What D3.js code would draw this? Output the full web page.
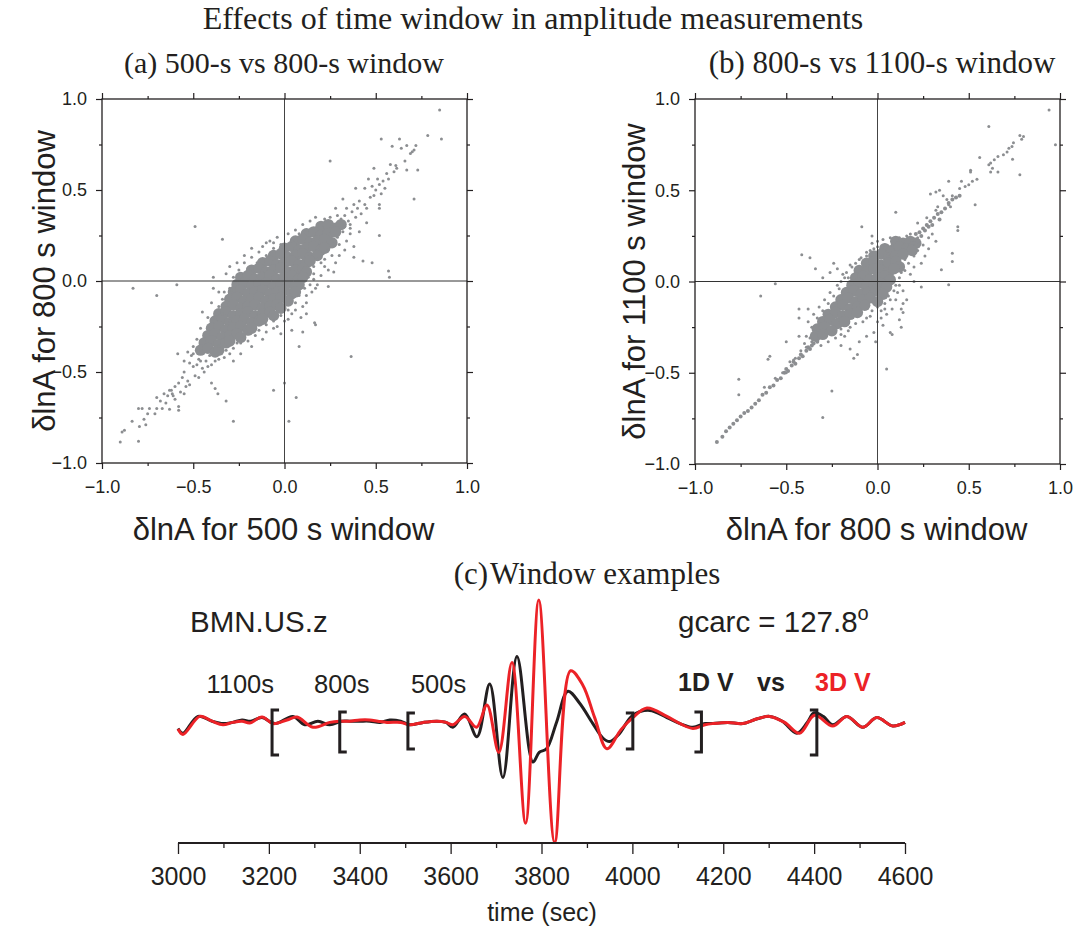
<!DOCTYPE html>
<html>
<head>
<meta charset="utf-8">
<script src="https://cdn.jsdelivr.net/npm/d3@7"></script>
<style>
  body { margin: 0; background: #fff; }
  svg { display: block; }
</style>
</head>
<body>
<script>
// ---------- data ----------
// panel (a): dense core and scattered measurements (500 s vs 800 s)
const denseA = [
  [0.20,0.30],[0.24,0.31],[0.28,0.29],[0.31,0.31],
  [0.12,0.26],[0.16,0.27],[0.20,0.25],[0.24,0.26],[0.28,0.27],
  [0.06,0.22],[0.10,0.23],[0.14,0.21],[0.18,0.22],[0.22,0.23],[0.26,0.21],
  [0.00,0.18],[0.04,0.19],[0.08,0.17],[0.12,0.18],[0.16,0.19],[0.20,0.17],[0.22,0.18],
  [-0.06,0.14],[-0.02,0.15],[0.02,0.13],[0.06,0.14],[0.10,0.15],[0.14,0.13],[0.18,0.14],
  [-0.12,0.10],[-0.08,0.11],[-0.04,0.09],[0.00,0.10],[0.04,0.11],[0.08,0.09],[0.12,0.10],[0.14,0.11],
  [-0.18,0.06],[-0.14,0.07],[-0.10,0.05],[-0.06,0.06],[-0.02,0.07],[0.02,0.05],[0.06,0.06],[0.10,0.07],[0.12,0.05],
  [-0.24,0.02],[-0.20,0.03],[-0.16,0.01],[-0.12,0.02],[-0.08,0.03],[-0.04,0.01],[0.00,0.02],[0.04,0.03],[0.08,0.01],[0.10,0.02],
  [-0.26,-0.02],[-0.22,-0.01],[-0.18,-0.03],[-0.14,-0.02],[-0.10,-0.01],[-0.06,-0.03],[-0.02,-0.02],[0.02,-0.01],[0.06,-0.03],[0.08,-0.02],
  [-0.28,-0.06],[-0.24,-0.05],[-0.20,-0.07],[-0.16,-0.06],[-0.12,-0.05],[-0.08,-0.07],[-0.04,-0.06],[0.00,-0.05],[0.04,-0.07],[0.06,-0.06],
  [-0.30,-0.10],[-0.26,-0.09],[-0.22,-0.11],[-0.18,-0.10],[-0.14,-0.09],[-0.10,-0.11],[-0.06,-0.10],[-0.02,-0.09],[0.02,-0.11],
  [-0.32,-0.14],[-0.28,-0.13],[-0.24,-0.15],[-0.20,-0.14],[-0.16,-0.13],[-0.12,-0.15],[-0.08,-0.14],[-0.04,-0.13],[-0.02,-0.15],
  [-0.36,-0.18],[-0.32,-0.17],[-0.28,-0.19],[-0.24,-0.18],[-0.20,-0.17],[-0.16,-0.19],[-0.12,-0.18],[-0.08,-0.17],[-0.06,-0.19],
  [-0.38,-0.22],[-0.34,-0.21],[-0.30,-0.23],[-0.26,-0.22],[-0.22,-0.21],[-0.18,-0.23],[-0.14,-0.22],[-0.12,-0.21],
  [-0.40,-0.26],[-0.36,-0.25],[-0.32,-0.27],[-0.28,-0.26],[-0.24,-0.25],[-0.20,-0.27],[-0.18,-0.26],
  [-0.42,-0.30],[-0.38,-0.29],[-0.34,-0.31],[-0.30,-0.30],[-0.26,-0.29],[-0.24,-0.31],
  [-0.44,-0.34],[-0.40,-0.33],[-0.36,-0.35],[-0.32,-0.34],[-0.30,-0.33],
  [-0.46,-0.38],[-0.42,-0.37],[-0.38,-0.39],[-0.36,-0.38]
];
const sparseA = [
  [0.85,0.94],[0.785,0.80],[0.86,0.78],[0.53,0.78],[0.59,0.74],[0.63,0.78],[0.64,0.73],[0.67,0.745],
  [0.70,0.71],[0.72,0.745],[0.69,0.70],[0.71,0.72],[0.61,0.635],[0.615,0.62],[0.66,0.66],[0.67,0.61],
  [0.73,0.61],[0.71,0.45],[0.60,0.60],[0.58,0.64],[0.56,0.59],
  [0.33,0.36],[0.35,0.33],[0.37,0.38],[0.36,0.31],[0.39,0.35],[0.40,0.40],[0.42,0.37],[0.38,0.42],
  [0.44,0.42],[0.41,0.44],[0.45,0.40],[0.34,0.40],[0.31,0.34],[0.29,0.36],[0.33,0.30],[0.32,0.45],
  [0.28,0.40],[0.25,0.35],[0.47,0.46],[0.48,0.52],[0.50,0.50],[0.52,0.53],[0.53,0.48],[0.51,0.56],
  [0.54,0.55],[0.55,0.51],[0.49,0.47],[0.46,0.56],[0.39,0.51],[0.44,0.51],[0.52,0.42],[0.52,0.40],
  [0.45,0.32],[0.41,0.27],[0.36,0.29],[0.17,0.35],[0.14,0.28],[0.25,0.66],[0.49,0.62],[0.57,0.56],
  [0.52,0.25],[0.57,0.055],[0.575,0.02],[0.48,0.10],[0.43,0.11],[0.38,0.13],[0.38,0.19],[0.27,0.05],
  [0.30,0.20],[0.33,0.17],[0.26,0.14],[0.22,0.08],[0.20,0.03],[0.24,-0.03],
  [-0.49,0.30],[-0.34,0.23],[-0.10,0.21],[-0.06,0.21],[-0.83,-0.04],[-0.59,-0.02],[-0.70,-0.08],
  [-0.39,0.02],[-0.39,-0.04],[-0.45,-0.17],[-0.22,0.10],[-0.25,0.06],[-0.18,0.13],[-0.14,0.16],
  [-0.12,0.19],[-0.28,0.02],[-0.30,-0.04],[-0.34,-0.10],[-0.36,-0.14],[-0.38,-0.20],[-0.33,-0.06],
  [0.165,-0.23],[0.17,-0.24],[0.10,-0.28],[0.08,-0.36],[0.365,-0.415],[0.00,-0.56],[-0.06,-0.60],
  [0.064,-0.64],[0.024,-0.77],[-0.28,-0.77],[-0.32,-0.66],[-0.365,-0.62],[-0.38,-0.59],[-0.40,-0.56],
  [0.12,-0.12],[0.15,-0.06],[0.17,-0.04],[0.12,-0.18],[0.09,-0.20],[0.06,-0.16],[0.02,-0.21],
  [0.04,-0.27],[-0.02,-0.29],[-0.04,-0.25],[0.18,-0.02],[0.16,0.01],
  [-0.585,-0.40],[-0.51,-0.41],[-0.47,-0.43],[-0.46,-0.38],[-0.48,-0.46],[-0.50,-0.47],[-0.52,-0.45],
  [-0.45,-0.48],[-0.43,-0.44],[-0.49,-0.52],[-0.53,-0.55],[-0.55,-0.50],[-0.56,-0.53],[-0.54,-0.58],
  [-0.58,-0.56],[-0.60,-0.58],[-0.57,-0.61],[-0.61,-0.63],[-0.62,-0.60],[-0.64,-0.63],[-0.66,-0.62],
  [-0.63,-0.60],[-0.615,-0.62],[-0.58,-0.71],[-0.58,-0.69],[-0.63,-0.705],[-0.67,-0.70],[-0.70,-0.70],
  [-0.71,-0.73],[-0.74,-0.70],[-0.75,-0.73],[-0.77,-0.76],[-0.76,-0.79],[-0.80,-0.70],[-0.78,-0.70],
  [-0.835,-0.77],[-0.877,-0.82],[-0.89,-0.83],[-0.90,-0.885],[-0.80,-0.88],[-0.795,-0.80],[-0.68,-0.66],
  [-0.70,-0.64],[-0.65,-0.67],[-0.60,-0.65],[-0.55,-0.62],[-0.52,-0.57],[-0.47,-0.53],[-0.44,-0.50],
  [-0.42,-0.47],[-0.40,-0.46],[-0.38,-0.44],[-0.36,-0.43],[-0.41,-0.41],[-0.46,-0.44],[-0.33,-0.42],
  [-0.30,-0.40],[-0.28,-0.37],[-0.26,-0.34],[-0.24,-0.34],[-0.22,-0.31],[-0.20,-0.29],[-0.50,-0.36],
  [-0.55,-0.44],[-0.53,-0.39],
  [-0.30,-0.22],[-0.34,-0.18],[-0.32,-0.10],[-0.29,-0.05],[-0.27,0.00],[-0.24,0.04],[-0.20,0.07],
  [-0.15,0.10],[-0.10,0.14],[-0.06,0.18],[-0.02,0.20],[0.04,0.22],[0.08,0.26],[0.12,0.28],[0.18,0.30],
  [0.22,0.34],[0.26,0.30],[0.16,0.08],[0.18,0.12],[0.21,0.15],[0.24,0.17],[0.26,0.22],[0.29,0.24],
  [0.32,0.27],[0.13,0.02],[0.11,-0.04],[0.08,-0.08],[0.06,-0.12],[0.02,-0.16],[-0.02,-0.19],
  [-0.06,-0.22],[-0.10,-0.24],[-0.14,-0.27],[-0.16,-0.30],[-0.20,-0.33],[-0.32,-0.38],[-0.36,-0.36],
  [-0.32,0.04],[-0.30,0.08],[-0.26,0.10],[-0.22,0.14],[-0.18,0.18],[-0.08,0.22],[-0.04,0.24],
  [0.02,0.26],[0.06,0.28],[0.10,0.31],[0.14,0.33],[-0.36,-0.06],[-0.40,-0.12],[-0.42,-0.20],
  [-0.46,-0.26],[-0.48,-0.32],[-0.50,-0.40],[0.20,0.10],[0.22,0.12],[0.24,0.06],[0.28,0.10],
  [0.30,0.14],[0.34,0.22],[0.36,0.26],[0.16,0.04],[0.14,-0.02],[0.12,-0.08],[0.10,-0.14],
  [0.04,-0.18],[0.00,-0.22],[-0.06,-0.26],[-0.10,-0.28],[-0.12,-0.32],[-0.18,-0.36],[-0.24,-0.40],
  [-0.28,-0.44]
];

// panel (b): 800 s vs 1100 s
const denseB = [
  [0.10,0.22],[0.14,0.21],[0.18,0.22],[0.21,0.21],
  [0.04,0.18],[0.08,0.17],[0.12,0.19],[0.16,0.18],[0.19,0.17],
  [-0.02,0.14],[0.02,0.15],[0.06,0.13],[0.10,0.14],[0.14,0.15],
  [-0.06,0.10],[-0.02,0.11],[0.02,0.09],[0.06,0.10],[0.10,0.11],[0.12,0.08],
  [-0.10,0.06],[-0.06,0.05],[-0.02,0.07],[0.02,0.06],[0.06,0.05],[0.09,0.07],
  [-0.12,0.02],[-0.08,0.03],[-0.04,0.01],[0.00,0.02],[0.04,0.03],[0.07,0.01],
  [-0.14,-0.02],[-0.10,-0.01],[-0.06,-0.03],[-0.02,-0.02],[0.02,-0.01],[0.05,-0.03],
  [-0.17,-0.06],[-0.13,-0.05],[-0.09,-0.07],[-0.05,-0.06],[-0.01,-0.05],[0.03,-0.07],
  [-0.20,-0.10],[-0.16,-0.09],[-0.12,-0.11],[-0.08,-0.10],[-0.04,-0.09],[0.00,-0.11],
  [-0.23,-0.14],[-0.19,-0.13],[-0.15,-0.15],[-0.11,-0.14],[-0.07,-0.13],
  [-0.27,-0.18],[-0.23,-0.17],[-0.19,-0.19],[-0.15,-0.18],[-0.11,-0.17],
  [-0.30,-0.22],[-0.26,-0.21],[-0.22,-0.23],[-0.18,-0.22],
  [-0.33,-0.26],[-0.29,-0.25],[-0.25,-0.27],
  [-0.34,-0.30],[-0.30,-0.29]
];
const trendB = [
  [-0.88,-0.88],[-0.85,-0.85],[-0.83,-0.82],[-0.81,-0.80],[-0.79,-0.78],[-0.77,-0.76],[-0.75,-0.74],
  [-0.73,-0.72],[-0.71,-0.71],[-0.69,-0.69],[-0.67,-0.67],[-0.65,-0.65],[-0.63,-0.62],[-0.61,-0.61],
  [-0.59,-0.58],[-0.57,-0.57],[-0.55,-0.54],[-0.53,-0.53],[-0.51,-0.50],[-0.49,-0.49],[-0.47,-0.46],
  [-0.45,-0.45],[-0.43,-0.42],[-0.41,-0.41],[-0.39,-0.38],[-0.37,-0.37],[-0.35,-0.34],[-0.33,-0.33],
  [-0.50,-0.48],[-0.46,-0.44],[-0.42,-0.40],[-0.38,-0.36],[-0.36,-0.35],
  [0.16,0.20],[0.19,0.23],[0.21,0.26],[0.23,0.27],[0.25,0.29],[0.27,0.31],[0.29,0.33],[0.31,0.35],
  [0.33,0.37],[0.35,0.38],[0.37,0.40],[0.39,0.43],[0.41,0.45],[0.43,0.46],[0.45,0.47],[0.24,0.25],
  [0.26,0.28],[0.28,0.30],[0.30,0.31],[0.34,0.34],[0.22,0.22],[0.20,0.21]
];
const sparseB = [
  [0.94,0.94],[0.975,0.75],[0.61,0.85],[0.78,0.80],[0.80,0.795],[0.79,0.78],[0.745,0.76],[0.737,0.74],
  [0.72,0.73],[0.71,0.71],[0.69,0.695],[0.66,0.685],[0.64,0.667],[0.62,0.65],[0.56,0.68],[0.61,0.64],
  [0.63,0.62],[0.66,0.60],[0.74,0.67],[0.78,0.585],[0.51,0.61],[0.51,0.60],[0.62,0.60],[0.545,0.56],
  [0.52,0.55],[0.50,0.53],[0.48,0.52],[0.46,0.55],[0.45,0.51],[0.39,0.55],[0.535,0.42],[0.43,0.46],
  [0.41,0.47],[0.38,0.45],[0.36,0.47],[0.34,0.50],[0.32,0.49],[0.29,0.48],[0.39,0.42],[0.40,0.41],
  [0.10,0.38],[0.22,0.32],[0.27,0.35],[0.32,0.39],[0.33,0.41],[0.44,0.30],[0.44,0.28],[0.41,0.155],
  [0.41,0.11],[0.35,0.064],[0.39,-0.018],[0.24,-0.03],[0.14,-0.05],[0.14,-0.12],[0.13,-0.15],
  [0.14,-0.17],[0.13,-0.25],[0.07,-0.28],[0.08,-0.29],[0.05,-0.48],[-0.086,0.30],[-0.03,0.25],
  [-0.415,0.146],[-0.37,0.13],[-0.34,0.07],[-0.22,0.07],[-0.26,0.05],[-0.17,0.05],[-0.16,0.02],
  [-0.56,-0.013],[-0.64,-0.08],[-0.43,-0.15],[-0.43,-0.20],[-0.38,-0.15],[-0.50,-0.33],[-0.43,-0.30],
  [-0.39,-0.30],[-0.37,-0.31],[-0.59,-0.41],[-0.60,-0.426],[-0.76,-0.535],[-0.76,-0.62],[-0.25,-0.60],
  [-0.30,-0.745],[-0.11,-0.40],[-0.13,-0.42],[-0.15,-0.37],[-0.20,-0.35],[-0.23,-0.31],[-0.18,-0.30],
  [-0.10,-0.33],[-0.06,-0.30],[-0.02,-0.28],[0.00,-0.22],[0.02,-0.20],[0.05,-0.18],[0.08,-0.15],
  [0.10,-0.10],[0.11,-0.06],[0.10,-0.02],[0.12,0.02],[0.15,0.06],[0.17,0.10],[0.20,0.14],[0.22,0.17],
  [0.25,0.20],[0.26,0.14],[0.28,0.24],[0.30,0.26],[0.24,0.10],[-0.02,0.18],[-0.06,0.16],[-0.10,0.12],
  [-0.14,0.08],[-0.18,0.02],[-0.21,-0.04],[-0.24,-0.08],[-0.27,-0.12],[-0.30,-0.16],[-0.33,-0.20],
  [-0.36,-0.25],[-0.40,-0.34],[-0.45,-0.42],[-0.48,-0.44],[-0.52,-0.50],[-0.56,-0.53],[-0.62,-0.58],
  [-0.50,-0.50],[-0.46,-0.43],[-0.42,-0.38],[-0.39,-0.36],[-0.36,-0.33],[-0.33,-0.28],[-0.28,-0.28],
  [-0.24,-0.27],[-0.20,-0.26],[-0.15,-0.25],[-0.06,-0.20],[-0.03,-0.16],[0.00,-0.14],[0.04,-0.12],
  [0.06,-0.08],[0.06,0.15],[0.08,0.20],[0.04,0.20],[0.00,0.19],[-0.03,0.21],[0.12,0.24],[0.16,0.25],
  [-0.20,0.00],[-0.22,-0.02],[-0.19,0.04],[-0.15,0.09],[-0.12,0.10],[-0.09,0.13],[-0.06,0.14],
  [-0.04,0.17],[0.00,0.22],[0.03,0.23],[0.07,0.24],[0.18,0.26],[0.22,0.24],[0.15,0.12],[0.13,0.05],
  [0.12,-0.02],[0.09,-0.05],[0.07,-0.10],[0.04,-0.15],[0.02,-0.16],[-0.04,-0.19],[-0.08,-0.22],
  [-0.12,-0.23],[-0.16,-0.27],[-0.20,-0.29],[-0.27,-0.33],[-0.31,-0.35],[-0.29,-0.10],[-0.32,-0.14],
  [-0.35,-0.18],[-0.38,-0.22],[-0.26,-0.06],[-0.24,0.10],[-0.30,0.02],[0.18,0.04],[0.20,0.08],
  [0.16,-0.10],[0.12,-0.21],[0.03,-0.24],[-0.01,-0.33],[0.20,0.00],[0.28,0.18],[0.32,0.22]
];
const scatterMajor = [-1, -0.5, 0, 0.5, 1];
const scatterMinor = [-0.75, -0.25, 0.25, 0.75];

// panel (c): seismograms [time (s), normalised amplitude]
const trace1D = [
  [3000,-0.07],[3011,-0.11],[3044,0.03],[3075,-0.01],[3099,-0.03],[3120,-0.02],[3141,0.0],[3160,-0.01],
  [3185,0.02],[3213,-0.03],[3253,0.03],[3279,-0.04],[3308,-0.01],[3334,-0.04],[3360,-0.01],[3378,-0.01],
  [3400,-0.01],[3422,-0.01],[3445,-0.02],[3466,0.0],[3490,-0.01],[3510,-0.04],[3540,-0.02],[3570,-0.01],
  [3590,-0.02],[3605,-0.06],[3631,0.05],[3658,-0.14],[3686,0.30],[3715,-0.48],[3746,0.53],[3781,-0.35],
  [3795,-0.27],[3811,-0.24],[3833,-0.02],[3858,0.24],[3884,0.14],[3913,-0.03],[3935,-0.15],[3950,-0.18],
  [3970,-0.12],[4001,0.04],[4038,0.08],[4076,0.02],[4105,-0.03],[4133,-0.06],[4160,-0.03],[4177,-0.03],
  [4210,-0.02],[4243,-0.03],[4275,0.01],[4302,0.03],[4330,-0.01],[4362,-0.11],[4385,-0.02],[4400,0.06],
  [4420,0.03],[4441,-0.04],[4472,0.03],[4507,-0.06],[4538,0.02],[4573,-0.05],[4600,-0.02]
];
const trace3D = [
  [3000,-0.075],[3011,-0.12],[3048,0.03],[3075,-0.01],[3099,-0.04],[3120,-0.02],[3141,-0.01],[3158,-0.025],
  [3185,0.025],[3209,-0.03],[3240,0.0],[3262,0.025],[3297,-0.06],[3334,-0.02],[3355,-0.01],[3378,-0.01],
  [3400,0.0],[3422,0.0],[3440,-0.01],[3460,-0.02],[3490,-0.02],[3510,-0.04],[3540,-0.02],[3570,-0.01],
  [3590,-0.02],[3605,-0.04],[3631,0.03],[3657,-0.06],[3680,0.125],[3706,-0.27],[3735,0.48],[3765,-0.86],
  [3794,1.0],[3829,-1.02],[3864,0.41],[3891,0.29],[3917,0.02],[3944,-0.24],[3975,-0.08],[4001,0.02],
  [4032,0.10],[4076,0.03],[4105,-0.03],[4133,-0.07],[4160,-0.04],[4177,-0.03],[4210,-0.02],[4243,-0.03],
  [4275,0.01],[4302,0.03],[4335,-0.02],[4368,-0.11],[4401,0.04],[4441,-0.05],[4472,0.03],[4507,-0.06],
  [4538,0.02],[4573,-0.05],[4600,-0.02]
];
const windowLabels = ["1100s", "800s", "500s"];
const windowStart = [3207, 3356, 3506];
const windowEnd = [4406, 4152, 4001];
const timeTicks = [3000, 3200, 3400, 3600, 3800, 4000, 4200, 4400, 4600];
const timeMinor = [3100, 3300, 3500, 3700, 3900, 4100, 4300, 4500];

// ---------- drawing ----------
const width = 1077, height = 931;
const ink = "#231f20", dotGray = "#8c8e91", red = "#ec2227";
const sans = "'Liberation Sans', Arial, Helvetica, sans-serif";
const serif = "'Liberation Serif', 'Times New Roman', serif";

const svg = d3.select("body").append("svg")
    .attr("width", width)
    .attr("height", height);
svg.append("rect").attr("width", width).attr("height", height).attr("fill", "#fff");

const serifText = (x, y, s, size) => svg.append("text")
    .attr("x", x).attr("y", y)
    .attr("text-anchor", "middle")
    .attr("font-family", serif).attr("font-size", size)
    .attr("fill", ink).text(s);

serifText(533, 29, "Effects of time window in amplitude measurements", 32);
serifText(284, 73, "(a) 500-s vs 800-s window", 30);
serifText(882, 73, "(b) 800-s vs 1100-s window", 31);
serifText(587, 584, "(c)", 31).append("tspan").attr("dx", 2).text("Window examples");

const fmt = d3.format(".1f");

function scatterPanel(o) {
  const g = svg.append("g");
  const x = d3.scaleLinear([-1, 1], [o.left, o.right]);
  const y = d3.scaleLinear([-1, 1], [o.bottom, o.top]);

  g.append("g").attr("fill", dotGray)
    .selectAll("circle").data(o.dense).join("circle")
      .attr("cx", d => x(d[0])).attr("cy", d => y(d[1])).attr("r", 5.7);
  g.append("g").attr("fill", dotGray)
    .selectAll("circle").data(o.trend || []).join("circle")
      .attr("cx", d => x(d[0])).attr("cy", d => y(d[1])).attr("r", 2);
  g.append("g").attr("fill", dotGray)
    .selectAll("circle").data(o.sparse).join("circle")
      .attr("cx", d => x(d[0])).attr("cy", d => y(d[1])).attr("r", 1.5);

  // zero lines
  g.append("line").attr("x1", x(0)).attr("x2", x(0)).attr("y1", o.top).attr("y2", o.bottom)
      .attr("stroke", "#444").attr("stroke-width", 1);
  g.append("line").attr("x1", o.left).attr("x2", o.right).attr("y1", y(0)).attr("y2", y(0))
      .attr("stroke", "#333").attr("stroke-width", 1);

  const styleAxis = sel => {
    sel.select(".domain").remove();
    sel.selectAll("line").attr("stroke", ink).attr("stroke-width", 1.2);
    sel.selectAll("text").attr("font-family", sans).attr("font-size", 18).attr("fill", ink);
  };
  const axes = [
    [d3.axisBottom(x), `translate(0,${o.bottom})`, true],
    [d3.axisTop(x), `translate(0,${o.top})`, false],
    [d3.axisLeft(y), `translate(${o.left},0)`, true],
    [d3.axisRight(y), `translate(${o.right},0)`, false]
  ];
  axes.forEach(([ax, tr, labelled], i) => {
    g.append("g").attr("transform", tr)
      .call(ax.tickValues(scatterMajor).tickSize(6).tickSizeOuter(0)
        .tickPadding(i === 0 ? 11 : 9).tickFormat(labelled ? fmt : ""))
      .call(styleAxis);
    g.append("g").attr("transform", tr)
      .call(ax.tickValues(scatterMinor).tickSize(3).tickSizeOuter(0).tickFormat(""))
      .call(styleAxis);
  });

  g.append("rect")
      .attr("x", o.left).attr("y", o.top)
      .attr("width", o.right - o.left).attr("height", o.bottom - o.top)
      .attr("fill", "none").attr("stroke", ink).attr("stroke-width", 1.3);

  g.append("text")
      .attr("x", (o.left + o.right) / 2 - 1).attr("y", 540)
      .attr("text-anchor", "middle")
      .attr("font-family", sans).attr("font-size", 31).attr("fill", ink)
      .text(o.xTitle);
  g.append("text")
      .attr("transform", `translate(${o.yTitleX},${(o.top + o.bottom) / 2}) rotate(-90)`)
      .attr("text-anchor", "middle")
      .attr("font-family", sans).attr("font-size", 31).attr("fill", ink)
      .text(o.yTitle);
}

scatterPanel({
  left: 102, right: 467, top: 99, bottom: 463,
  dense: denseA, sparse: sparseA,
  xTitle: "δlnA for 500 s window", yTitle: "δlnA for 800 s window", yTitleX: 55
});
scatterPanel({
  left: 695, right: 1060, top: 99, bottom: 464,
  dense: denseB, sparse: sparseB, trend: trendB,
  xTitle: "δlnA for 800 s window", yTitle: "δlnA for 1100 s window", yTitleX: 645
});

// ---------- panel (c) ----------
const t = d3.scaleLinear([3000, 4600], [178, 905]);
const amp = d3.scaleLinear([-1, 1], [840, 600]);
const line = d3.line()
    .x(d => t(d[0]))
    .y(d => amp(d[1]))
    .curve(d3.curveCatmullRom.alpha(0.5));

svg.append("path").datum(trace1D)
    .attr("d", line).attr("fill", "none")
    .attr("stroke", ink).attr("stroke-width", 3).attr("stroke-linejoin", "round");
svg.append("path").datum(trace3D)
    .attr("d", line).attr("fill", "none")
    .attr("stroke", red).attr("stroke-width", 3).attr("stroke-linejoin", "round");

// window brackets (pixel extents above / below the trace baseline)
const bracketExtent = [[10, 35], [8, 32], [7, 29]];
const arm = 7;
windowStart.forEach((s, i) => {
  const x0 = t(s), x1 = t(windowEnd[i]);
  const [up, down] = bracketExtent[i];
  const top = amp(0) - up, bot = amp(0) + down;
  svg.append("path")
      .attr("d", `M${x0 + arm},${top}H${x0}V${bot}H${x0 + arm}`)
      .attr("fill", "none").attr("stroke", ink).attr("stroke-width", 3);
  svg.append("path")
      .attr("d", `M${x1 - arm},${top}H${x1}V${bot}H${x1 - arm}`)
      .attr("fill", "none").attr("stroke", ink).attr("stroke-width", 3);
});

// window labels
const labelAnchor = ["end", "middle", "start"];
const labelDx = [2, 2, 3];
windowLabels.forEach((s, i) => {
  svg.append("text")
      .attr("x", t(windowStart[i]) + labelDx[i]).attr("y", 693)
      .attr("text-anchor", labelAnchor[i])
      .attr("font-family", sans).attr("font-size", 25.5).attr("fill", ink)
      .text(s);
});

svg.append("text")
    .attr("x", 190).attr("y", 632)
    .attr("font-family", sans).attr("font-size", 29.5).attr("fill", ink)
    .text("BMN.US.z");
const gc = svg.append("text")
    .attr("x", 678).attr("y", 632)
    .attr("font-family", sans).attr("font-size", 29.5).attr("fill", ink)
    .text("gcarc = 127.8");
gc.append("tspan").attr("dy", -12).attr("font-size", 20).text("o");

const legendText = (x, s, c) => svg.append("text")
    .attr("x", x).attr("y", 691)
    .attr("font-family", sans).attr("font-size", 25).attr("font-weight", "bold")
    .attr("fill", c).text(s);
legendText(678, "1D V", ink);
legendText(757, "vs", ink);
legendText(815, "3D V", red);

// time axis
const axG = svg.append("g").attr("transform", "translate(0,843)");
axG.call(d3.axisBottom(t).tickValues(timeTicks).tickSize(11).tickSizeOuter(0).tickPadding(13).tickFormat(d3.format("d")));
axG.append("g").call(d3.axisBottom(t).tickValues(timeMinor).tickSize(5).tickSizeOuter(0).tickFormat(""))
  .select(".domain").remove();
axG.select(".domain").remove();
axG.selectAll("line").attr("stroke", ink).attr("stroke-width", 1.3);
axG.selectAll("text").attr("font-family", sans).attr("font-size", 25).attr("fill", ink);
axG.append("line").attr("x1", t(3000)).attr("x2", t(4600)).attr("stroke", ink).attr("stroke-width", 2);

svg.append("text")
    .attr("x", 542).attr("y", 921)
    .attr("text-anchor", "middle")
    .attr("font-family", sans).attr("font-size", 25).attr("fill", ink)
    .text("time (sec)");
</script>
</body>
</html>
